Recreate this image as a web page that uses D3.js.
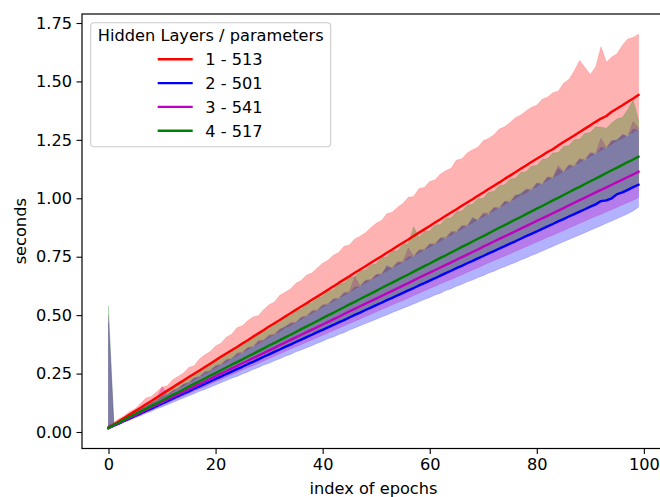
<!DOCTYPE html>
<html>
<head>
<meta charset="utf-8">
<script src="https://cdn.jsdelivr.net/npm/d3@7"></script>
<style>
  html, body { margin: 0; padding: 0; background: #fff; }
  svg { display: block; font-family: "DejaVu Sans", sans-serif; }
</style>
</head>
<body>
<svg id="chart" width="660" height="497"></svg>
<script>
// Training time per epoch for networks with different numbers of hidden layers.
const seriesLabels = ["1 - 513", "2 - 501", "3 - 541", "4 - 517"];
const seriesColors = ["#ff0000", "#0000ff", "#bf00bf", "#008000"];
const xTicks = [0, 20, 40, 60, 80, 100];
const yTicks = [0, 0.25, 0.5, 0.75, 1.0, 1.25, 1.5, 1.75];

// 1 hidden layer
const redMean = [0.020,0.032,0.047,0.061,0.076,0.090,0.104,0.119,0.133,0.148,
0.163,0.177,0.191,0.206,0.220,0.235,0.249,0.263,0.278,0.292,
0.307,0.322,0.336,0.350,0.364,0.379,0.393,0.408,0.422,0.436,
0.451,0.465,0.479,0.494,0.508,0.523,0.537,0.551,0.566,0.580,
0.594,0.609,0.623,0.638,0.652,0.666,0.681,0.695,0.709,0.724,
0.738,0.752,0.767,0.781,0.796,0.810,0.824,0.839,0.853,0.867,
0.881,0.896,0.910,0.925,0.939,0.953,0.968,0.982,0.996,1.011,
1.025,1.040,1.054,1.068,1.083,1.097,1.111,1.126,1.140,1.155,
1.169,1.183,1.198,1.210,1.226,1.241,1.255,1.269,1.284,1.298,
1.312,1.327,1.341,1.352,1.370,1.384,1.398,1.413,1.427,1.442];
const redHigh = [0.030,0.041,0.058,0.070,0.088,0.100,0.122,0.145,0.152,0.172,
0.192,0.198,0.224,0.238,0.252,0.276,0.284,0.312,0.330,0.344,
0.368,0.380,0.405,0.418,0.446,0.455,0.476,0.492,0.498,0.524,
0.545,0.556,0.585,0.598,0.612,0.636,0.648,0.672,0.680,0.702,
0.722,0.735,0.756,0.768,0.795,0.800,0.826,0.838,0.852,0.874,
0.893,0.905,0.934,0.940,0.962,0.978,1.004,1.008,1.042,1.046,
1.072,1.078,1.104,1.118,1.128,1.164,1.168,1.194,1.208,1.218,
1.246,1.256,1.272,1.296,1.306,1.324,1.345,1.356,1.374,1.390,
1.398,1.424,1.432,1.452,1.458,1.492,1.508,1.545,1.590,1.560,
1.530,1.562,1.648,1.582,1.604,1.618,1.655,1.682,1.688,1.702];
const redLow = [0.018,0.029,0.041,0.055,0.067,0.081,0.092,0.107,0.118,0.133,
0.145,0.159,0.170,0.186,0.196,0.212,0.222,0.237,0.248,0.263,
0.275,0.289,0.300,0.316,0.326,0.342,0.352,0.368,0.378,0.393,
0.404,0.419,0.429,0.446,0.455,0.471,0.481,0.497,0.507,0.523,
0.533,0.549,0.558,0.575,0.584,0.600,0.610,0.627,0.636,0.652,
0.662,0.678,0.688,0.704,0.714,0.730,0.739,0.756,0.765,0.781,
0.791,0.807,0.816,0.833,0.842,0.859,0.868,0.885,0.894,0.911,
0.920,0.937,0.946,0.963,0.972,0.988,0.997,1.014,1.023,1.040,
1.049,1.066,1.075,1.090,1.100,1.117,1.127,1.143,1.152,1.169,
1.178,1.195,1.204,1.218,1.230,1.247,1.256,1.273,1.282,1.298];

// 2 hidden layers
const blueMean = [0.016,0.027,0.037,0.048,0.058,0.069,0.079,0.090,0.100,0.111,
0.121,0.132,0.143,0.153,0.164,0.174,0.185,0.195,0.206,0.216,
0.227,0.237,0.248,0.258,0.269,0.279,0.290,0.300,0.311,0.322,
0.332,0.343,0.353,0.364,0.374,0.385,0.395,0.406,0.416,0.427,
0.437,0.448,0.458,0.469,0.479,0.490,0.501,0.511,0.522,0.532,
0.543,0.553,0.564,0.574,0.585,0.595,0.606,0.616,0.627,0.637,
0.648,0.658,0.669,0.680,0.690,0.701,0.711,0.722,0.732,0.743,
0.753,0.764,0.774,0.785,0.795,0.806,0.816,0.827,0.838,0.848,
0.858,0.869,0.880,0.890,0.901,0.911,0.922,0.932,0.943,0.953,
0.964,0.974,0.988,0.991,1.000,1.018,1.025,1.036,1.048,1.058];
const blueHigh = [0.470,0.032,0.047,0.058,0.073,0.082,0.099,0.108,0.125,0.133,
0.152,0.158,0.176,0.184,0.203,0.209,0.229,0.234,0.255,0.260,
0.281,0.285,0.307,0.311,0.333,0.336,0.359,0.362,0.385,0.390,
0.411,0.415,0.437,0.452,0.463,0.466,0.489,0.492,0.515,0.518,
0.541,0.543,0.567,0.569,0.593,0.595,0.620,0.621,0.646,0.647,
0.672,0.673,0.712,0.698,0.724,0.724,0.750,0.749,0.776,0.775,
0.802,0.800,0.828,0.826,0.854,0.852,0.880,0.877,0.918,0.903,
0.932,0.929,0.958,0.955,0.984,0.980,1.010,1.020,1.036,1.032,
1.062,1.058,1.088,1.083,1.128,1.109,1.140,1.134,1.166,1.160,
1.192,1.186,1.218,1.211,1.244,1.250,1.270,1.262,1.296,1.290];
const blueLow = [0.014,0.024,0.032,0.043,0.051,0.061,0.069,0.080,0.088,0.099,
0.107,0.117,0.126,0.136,0.145,0.155,0.164,0.174,0.182,0.192,
0.201,0.211,0.220,0.230,0.238,0.248,0.257,0.267,0.276,0.287,
0.294,0.305,0.313,0.324,0.332,0.343,0.351,0.361,0.369,0.380,
0.388,0.399,0.407,0.417,0.425,0.436,0.445,0.455,0.464,0.473,
0.482,0.492,0.501,0.511,0.520,0.530,0.538,0.548,0.557,0.567,
0.576,0.586,0.594,0.605,0.613,0.624,0.632,0.643,0.650,0.661,
0.669,0.680,0.688,0.699,0.707,0.717,0.725,0.736,0.745,0.755,
0.764,0.774,0.784,0.794,0.804,0.814,0.824,0.833,0.843,0.853,
0.863,0.873,0.883,0.893,0.903,0.913,0.923,0.934,0.946,0.962];

// 3 hidden layers
const magentaMean = [0.017,0.028,0.039,0.050,0.061,0.072,0.083,0.095,0.106,0.117,
0.128,0.139,0.150,0.161,0.172,0.183,0.194,0.205,0.216,0.228,
0.239,0.250,0.261,0.272,0.283,0.294,0.305,0.316,0.327,0.338,
0.349,0.360,0.372,0.383,0.394,0.405,0.416,0.427,0.438,0.449,
0.460,0.471,0.482,0.493,0.505,0.516,0.527,0.538,0.549,0.560,
0.571,0.582,0.593,0.604,0.615,0.626,0.637,0.649,0.660,0.671,
0.682,0.693,0.704,0.715,0.726,0.737,0.748,0.759,0.770,0.781,
0.793,0.804,0.815,0.826,0.837,0.848,0.859,0.870,0.881,0.892,
0.903,0.914,0.925,0.936,0.947,0.958,0.970,0.981,0.992,1.003,
1.014,1.025,1.036,1.047,1.058,1.069,1.080,1.091,1.102,1.114];
const magentaHigh = [0.500,0.034,0.046,0.060,0.071,0.086,0.097,0.112,0.122,0.140,
0.195,0.160,0.178,0.186,0.205,0.212,0.232,0.238,0.258,0.262,
0.285,0.290,0.310,0.315,0.338,0.342,0.362,0.366,0.392,0.394,
0.415,0.418,0.442,0.444,0.468,0.470,0.492,0.497,0.520,0.522,
0.545,0.548,0.570,0.572,0.598,0.600,0.665,0.625,0.650,0.652,
0.675,0.676,0.702,0.703,0.728,0.728,0.787,0.752,0.780,0.782,
0.805,0.806,0.832,0.832,0.858,0.858,0.884,0.884,0.910,0.908,
0.937,0.936,0.962,0.960,0.988,0.986,1.014,1.012,1.040,1.038,
1.066,1.062,1.092,1.088,1.140,1.114,1.144,1.140,1.170,1.166,
1.196,1.192,1.258,1.216,1.248,1.244,1.274,1.268,1.330,1.300];
const magentaLow = [0.015,0.025,0.035,0.045,0.055,0.065,0.075,0.085,0.095,0.105,
0.115,0.125,0.135,0.145,0.155,0.165,0.175,0.185,0.194,0.205,
0.215,0.225,0.235,0.245,0.255,0.265,0.275,0.284,0.294,0.304,
0.314,0.324,0.335,0.345,0.355,0.365,0.374,0.384,0.394,0.404,
0.414,0.424,0.434,0.444,0.455,0.464,0.474,0.484,0.494,0.504,
0.514,0.524,0.534,0.544,0.554,0.563,0.573,0.584,0.594,0.604,
0.614,0.624,0.634,0.644,0.653,0.663,0.673,0.683,0.693,0.703,
0.714,0.724,0.734,0.743,0.753,0.763,0.773,0.783,0.793,0.803,
0.813,0.823,0.833,0.842,0.852,0.862,0.873,0.883,0.893,0.903,
0.913,0.923,0.932,0.942,0.952,0.962,0.972,0.982,0.992,1.003];

// 4 hidden layers
const greenMean = [0.018,0.030,0.041,0.053,0.065,0.077,0.088,0.100,0.112,0.123,
0.135,0.147,0.159,0.170,0.182,0.194,0.206,0.217,0.229,0.241,
0.252,0.264,0.276,0.288,0.299,0.311,0.323,0.334,0.346,0.358,
0.370,0.381,0.393,0.405,0.416,0.428,0.440,0.452,0.463,0.475,
0.487,0.499,0.510,0.522,0.534,0.546,0.557,0.569,0.581,0.592,
0.604,0.616,0.628,0.639,0.651,0.663,0.674,0.686,0.698,0.710,
0.721,0.733,0.745,0.756,0.768,0.780,0.792,0.803,0.815,0.827,
0.838,0.850,0.862,0.874,0.885,0.897,0.909,0.920,0.932,0.944,
0.956,0.967,0.979,0.991,1.002,1.014,1.026,1.038,1.049,1.061,
1.073,1.084,1.096,1.108,1.120,1.131,1.143,1.155,1.166,1.178];
const greenHigh = [0.540,0.037,0.050,0.066,0.078,0.094,0.105,0.122,0.133,0.150,
0.160,0.178,0.189,0.208,0.216,0.240,0.246,0.264,0.272,0.294,
0.300,0.322,0.328,0.350,0.356,0.378,0.385,0.406,0.412,0.436,
0.440,0.462,0.468,0.492,0.496,0.520,0.524,0.548,0.552,0.576,
0.580,0.605,0.608,0.632,0.636,0.662,0.664,0.690,0.692,0.716,
0.720,0.746,0.750,0.774,0.776,0.802,0.806,0.878,0.832,0.858,
0.860,0.886,0.888,0.914,0.916,0.942,0.946,0.970,0.974,0.998,
1.000,1.026,1.030,1.054,1.058,1.082,1.086,1.110,1.114,1.138,
1.140,1.166,1.170,1.194,1.196,1.222,1.226,1.250,1.254,1.278,
1.282,1.306,1.304,1.300,1.322,1.340,1.346,1.380,1.420,1.335];
const greenLow = [0.016,0.027,0.037,0.048,0.059,0.069,0.079,0.090,0.101,0.111,
0.122,0.132,0.143,0.153,0.164,0.175,0.185,0.195,0.206,0.217,
0.227,0.238,0.248,0.259,0.269,0.280,0.291,0.301,0.311,0.322,
0.333,0.343,0.354,0.365,0.374,0.385,0.396,0.407,0.417,0.428,
0.438,0.449,0.459,0.470,0.481,0.491,0.501,0.512,0.523,0.533,
0.544,0.554,0.565,0.575,0.586,0.597,0.607,0.617,0.628,0.639,
0.649,0.660,0.671,0.680,0.691,0.702,0.713,0.723,0.734,0.744,
0.754,0.765,0.776,0.787,0.797,0.807,0.818,0.828,0.839,0.850,
0.860,0.870,0.881,0.892,0.902,0.913,0.923,0.934,0.944,0.955,
0.966,0.976,0.986,0.997,1.008,1.018,1.029,1.039,1.049,1.060];

const series = [
  { label: seriesLabels[0], color: seriesColors[0], mean: redMean, low: redLow, high: redHigh },
  { label: seriesLabels[1], color: seriesColors[1], mean: blueMean, low: blueLow, high: blueHigh },
  { label: seriesLabels[2], color: seriesColors[2], mean: magentaMean, low: magentaLow, high: magentaHigh },
  { label: seriesLabels[3], color: seriesColors[3], mean: greenMean, low: greenLow, high: greenHigh }
];

const epochs = redMean.map((_, i) => i);

const svg = d3.select("#chart");
const FONT = 16.2;
const LINE_W = 2.4;
const plot = { left: 82, top: 14, right: 665, bottom: 448.5 };

const x = d3.scaleLinear().domain([-4.95, 103.95]).range([plot.left, plot.right]);
const y = d3.scaleLinear().domain([-0.0706, 1.7885]).range([plot.bottom, plot.top]);

svg.append("defs").append("clipPath").attr("id", "plot-clip")
  .append("rect").attr("x", plot.left).attr("y", plot.top)
  .attr("width", plot.right - plot.left).attr("height", plot.bottom - plot.top);

const body = svg.append("g").attr("clip-path", "url(#plot-clip)");

// min/max bands
series.forEach(s => {
  const area = d3.area()
    .x(i => x(i))
    .y0(i => y(s.low[i]))
    .y1(i => y(s.high[i]));
  body.append("path")
    .datum(epochs)
    .attr("d", area)
    .attr("fill", s.color)
    .attr("fill-opacity", 0.3)
    .attr("stroke", s.color)
    .attr("stroke-opacity", 0.3)
    .attr("stroke-width", 0.5);
});

// mean lines
series.forEach(s => {
  const line = d3.line().x(i => x(i)).y(i => y(s.mean[i]));
  body.append("path")
    .datum(epochs)
    .attr("d", line)
    .attr("fill", "none")
    .attr("stroke", s.color)
    .attr("stroke-width", LINE_W)
    .attr("stroke-linejoin", "round")
    .attr("stroke-linecap", "square");
});

// axes
const xAxis = d3.axisBottom(x).tickValues(xTicks).tickFormat(d3.format("d"))
  .tickSize(5.5).tickPadding(4.5);
const yAxis = d3.axisLeft(y).tickValues(yTicks).tickFormat(d3.format(".2f"))
  .tickSize(5.5).tickPadding(4.5);

const gx = svg.append("g").attr("transform", `translate(0,${plot.bottom})`).call(xAxis);
const gy = svg.append("g").attr("transform", `translate(${plot.left},0)`).call(yAxis);
[gx, gy].forEach(g => {
  g.select(".domain").remove();
  g.selectAll(".tick line").attr("stroke", "#000").attr("stroke-width", 1.1);
  g.selectAll(".tick text").attr("fill", "#000")
    .style("font-size", FONT + "px").style("font-family", "DejaVu Sans");
});

// spines
svg.append("rect")
  .attr("x", plot.left).attr("y", plot.top)
  .attr("width", plot.right - plot.left).attr("height", plot.bottom - plot.top)
  .attr("fill", "none").attr("stroke", "#000").attr("stroke-width", 1.2);

// axis titles
svg.append("text")
  .attr("x", (plot.left + plot.right) / 2).attr("y", 494)
  .attr("text-anchor", "middle").style("font-size", FONT + "px")
  .text("index of epochs");
svg.append("text")
  .attr("transform", `translate(26,${(plot.top + plot.bottom) / 2}) rotate(-90)`)
  .attr("text-anchor", "middle").style("font-size", FONT + "px")
  .text("seconds");

// legend
const legend = svg.append("g");
legend.append("rect")
  .attr("x", 90.7).attr("y", 22.7).attr("width", 240).attr("height", 124)
  .attr("rx", 3.5).attr("ry", 3.5)
  .attr("fill", "#fff").attr("fill-opacity", 0.8)
  .attr("stroke", "#cccccc").attr("stroke-width", 1.1);
legend.append("text")
  .attr("x", 210.7).attr("y", 40.8)
  .attr("text-anchor", "middle").style("font-size", FONT + "px")
  .text("Hidden Layers / parameters");
series.forEach((s, k) => {
  const ly = 59.3 + k * 23.8;
  legend.append("line")
    .attr("x1", 157.7).attr("x2", 192.7).attr("y1", ly).attr("y2", ly)
    .attr("stroke", s.color).attr("stroke-width", LINE_W);
  legend.append("text")
    .attr("x", 205.3).attr("y", ly + 5.9)
    .style("font-size", FONT + "px")
    .text(s.label);
});
</script>
</body>
</html>
